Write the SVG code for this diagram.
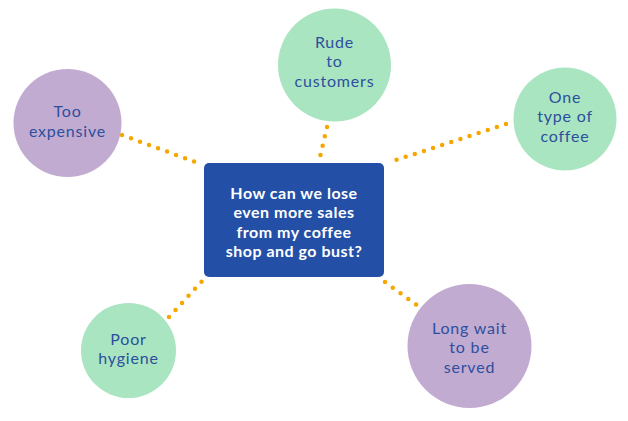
<svg xmlns="http://www.w3.org/2000/svg" width="628" height="421" viewBox="0 0 628 421">
<style>
.purple{fill:#c2abd1}
.green{fill:#a9e5c0}
.lbl{font-family:Lato,"Open Sans",sans-serif;font-size:16px;letter-spacing:0.8px;fill:#2d4f9e;text-anchor:middle;dominant-baseline:central}
.main{font-family:Lato,"Open Sans",sans-serif;font-size:16px;letter-spacing:0.5px;font-weight:bold;fill:#ffffff;text-anchor:middle;dominant-baseline:central}
.dot{stroke:#f5a700;stroke-width:4.5;stroke-linecap:round;stroke-dasharray:0 9.6;fill:none}
</style>
<rect width="628" height="421" fill="#ffffff"/>
<g id="connectors">
<line class="dot" x1="122" y1="135" x2="198" y2="163"/>
<line class="dot" x1="327" y1="127" x2="320" y2="157"/>
<line class="dot" x1="506" y1="124" x2="390" y2="162"/>
<line class="dot" x1="169" y1="317" x2="204" y2="279"/>
<line class="dot" x1="385" y1="282" x2="418" y2="306"/>
</g>
<g id="center">
<rect x="204" y="163" width="180" height="114" rx="5" fill="#2350a6"/>
<text class="main" x="294" y="192">How can we lose</text>
<text class="main" x="294" y="211.5">even more sales</text>
<text class="main" x="294" y="231">from my coffee</text>
<text class="main" x="294" y="250.5">shop and go bust?</text>
</g>
<g id="too-expensive">
<circle class="purple" cx="67.5" cy="123" r="54"/>
<text class="lbl" x="67.5" y="110">Too</text>
<text class="lbl" x="67.5" y="130">expensive</text>
</g>
<g id="rude">
<circle class="green" cx="334.5" cy="65" r="56.5"/>
<text class="lbl" x="334.5" y="41">Rude</text>
<text class="lbl" x="334.5" y="60.5">to</text>
<text class="lbl" x="334.5" y="80">customers</text>
</g>
<g id="one-type">
<circle class="green" cx="565" cy="119" r="51.5"/>
<text class="lbl" x="565" y="96">One</text>
<text class="lbl" x="565" y="115.5">type of</text>
<text class="lbl" x="565" y="135">coffee</text>
</g>
<g id="poor-hygiene">
<circle class="green" cx="128.5" cy="350.5" r="47.5"/>
<text class="lbl" x="128.5" y="338">Poor</text>
<text class="lbl" x="128.5" y="357.5">hygiene</text>
</g>
<g id="long-wait">
<circle class="purple" cx="469.5" cy="346" r="62"/>
<text class="lbl" x="469.5" y="327">Long wait</text>
<text class="lbl" x="469.5" y="346.5">to be</text>
<text class="lbl" x="469.5" y="366">served</text>
</g>
</svg>
